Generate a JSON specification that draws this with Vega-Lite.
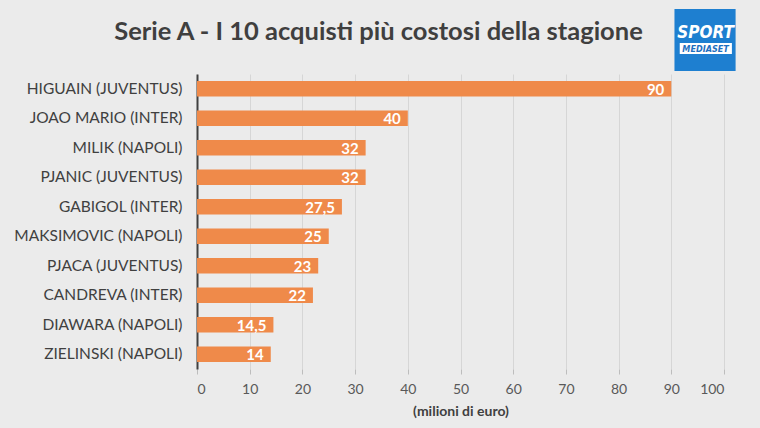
{
  "$schema": "https://vega.github.io/schema/vega-lite/v6.json",
  "width": 527,
  "height": 295,
  "autosize": "none",
  "padding": {"left": 197, "top": 74, "right": 36, "bottom": 59},
  "background": "#ebebeb",
  "title": {
    "text": "Serie A - I 10 acquisti più costosi della stagione",
    "anchor": "middle",
    "dx": -82,
    "offset": -36,
    "font": "Lato",
    "fontSize": 25.5,
    "fontWeight": "bold",
    "color": "#3f3f3f"
  },
  "config": {
    "view": {"stroke": null},
    "font": "Lato"
  },
  "datasets": {
    "acquisti": [
      {"giocatore": "HIGUAIN (JUVENTUS)", "milioni": 90, "etichetta": "90"},
      {"giocatore": "JOAO MARIO (INTER)", "milioni": 40, "etichetta": "40"},
      {"giocatore": "MILIK (NAPOLI)", "milioni": 32, "etichetta": "32"},
      {"giocatore": "PJANIC (JUVENTUS)", "milioni": 32, "etichetta": "32"},
      {"giocatore": "GABIGOL (INTER)", "milioni": 27.5, "etichetta": "27,5"},
      {"giocatore": "MAKSIMOVIC (NAPOLI)", "milioni": 25, "etichetta": "25"},
      {"giocatore": "PJACA (JUVENTUS)", "milioni": 23, "etichetta": "23"},
      {"giocatore": "CANDREVA (INTER)", "milioni": 22, "etichetta": "22"},
      {"giocatore": "DIAWARA (NAPOLI)", "milioni": 14.5, "etichetta": "14,5"},
      {"giocatore": "ZIELINSKI (NAPOLI)", "milioni": 14, "etichetta": "14"}
    ],
    "logo": [
      {"testo": "SPORT", "sotto": "MEDIASET"}
    ]
  },
  "layer": [
    {
      "data": {"name": "acquisti"},
      "layer": [
        {
          "mark": {"type": "bar", "color": "#ef8a4a"},
          "encoding": {
            "y": {
              "field": "giocatore",
              "type": "nominal",
              "sort": null,
              "scale": {"paddingInner": 0.47, "paddingOuter": 0.235},
              "axis": {
                "title": null,
                "ticks": false,
                "domainColor": "#404040",
                "domainWidth": 2,
                "labelPadding": 15,
                "labelFontSize": 15.5,
                "labelColor": "#404040",
                "labelFont": "Lato"
              }
            },
            "x": {
              "field": "milioni",
              "type": "quantitative",
              "scale": {"domain": [0, 100], "nice": false},
              "axis": {
                "title": "(milioni di euro)",
                "titleFontSize": 14,
                "titleFontWeight": "bold",
                "titleColor": "#404040",
                "titlePadding": 8,
                "values": [0, 10, 20, 30, 40, 50, 60, 70, 80, 90, 100],
                "domain": false,
                "tickColor": "#bdbdbd",
                "tickSize": 5,
                "labelPadding": 8,
                "labelFontSize": 14,
                "labelColor": "#595959",
                "gridColor": "#d6d6d6",
                "gridWidth": 1
              }
            }
          }
        },
        {
          "mark": {
            "type": "text",
            "align": "right",
            "baseline": "middle",
            "dx": -7,
            "dy": 1,
            "color": "white",
            "fontSize": 15,
            "fontWeight": "bold"
          },
          "encoding": {
            "y": {"field": "giocatore", "type": "nominal", "sort": null},
            "x": {"field": "milioni", "type": "quantitative"},
            "text": {"field": "etichetta"}
          }
        }
      ]
    },
    {
      "data": {"name": "logo"},
      "layer": [
        {
          "mark": {"type": "rect", "color": "#1e7fd0"},
          "encoding": {
            "x": {"datum": 90.6},
            "x2": {"datum": 102.2},
            "y": {"datum": -65, "type": "quantitative", "scale": {"domain": [0, 295], "reverse": true, "nice": false, "zero": false}, "axis": null},
            "y2": {"datum": -3}
          }
        },
        {
          "mark": {"type": "rect", "color": "white"},
          "encoding": {
            "x": {"datum": 91.6},
            "x2": {"datum": 101.5},
            "y": {"datum": -31, "type": "quantitative", "axis": null},
            "y2": {"datum": -20}
          }
        },
        {
          "mark": {
            "type": "text",
            "align": "center",
            "baseline": "middle",
            "color": "white",
            "fontSize": 17,
            "fontWeight": "bold",
            "fontStyle": "italic",
            "font": "DejaVu Sans Condensed, Roboto"
          },
          "encoding": {
            "x": {"datum": 96.5},
            "y": {"datum": -41, "type": "quantitative", "axis": null},
            "text": {"field": "testo"}
          }
        },
        {
          "mark": {
            "type": "text",
            "align": "center",
            "baseline": "middle",
            "color": "#1e6fc0",
            "fontSize": 9,
            "fontWeight": "bold",
            "fontStyle": "italic",
            "font": "DejaVu Sans Condensed, Roboto"
          },
          "encoding": {
            "x": {"datum": 96.5},
            "y": {"datum": -25.5, "type": "quantitative", "axis": null},
            "text": {"field": "sotto"}
          }
        }
      ]
    }
  ],
  "resolve": {"scale": {"y": "independent"}, "axis": {"y": "independent"}}
}
